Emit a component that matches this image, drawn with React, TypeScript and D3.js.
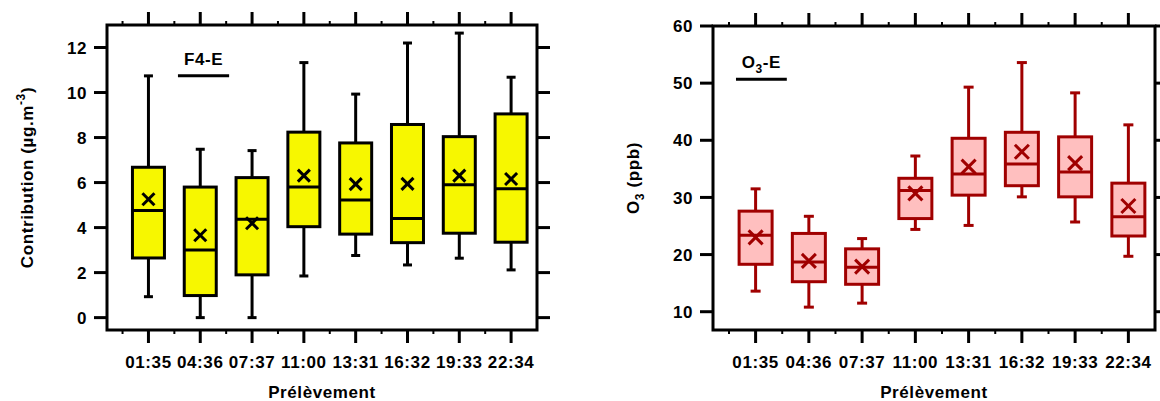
import React from "react";
import * as d3 from "d3";

const categories = ["01:35", "04:36", "07:37", "11:00", "13:31", "16:32", "19:33", "22:34"];

// F4-E contribution (µg.m-3)
const f4WhiskerLow = [0.93, 0, 0, 1.85, 2.76, 2.34, 2.64, 2.12];
const f4Q1 = [2.65, 0.98, 1.9, 4.04, 3.71, 3.33, 3.75, 3.35];
const f4Median = [4.76, 3.0, 4.37, 5.8, 5.23, 4.4, 5.9, 5.72];
const f4Q3 = [6.68, 5.8, 6.22, 8.24, 7.76, 8.58, 8.04, 9.05];
const f4WhiskerHigh = [10.74, 7.48, 7.42, 11.33, 9.93, 12.2, 12.64, 10.68];
const f4Mean = [5.26, 3.66, 4.19, 6.31, 5.93, 5.94, 6.31, 6.16];
const f4Ticks = [0, 2, 4, 6, 8, 10, 12];

// O3-E (ppb)
const o3WhiskerLow = [13.6, 10.8, 11.5, 24.4, 25.1, 30.1, 25.7, 19.7];
const o3Q1 = [18.3, 15.25, 14.8, 26.3, 30.4, 32.05, 30.1, 23.25];
const o3Median = [23.4, 18.7, 17.8, 31.2, 34.1, 35.85, 34.45, 26.6];
const o3Q3 = [27.6, 23.7, 21.0, 33.35, 40.35, 41.4, 40.6, 32.5];
const o3WhiskerHigh = [31.5, 26.7, 22.8, 37.25, 49.3, 53.6, 48.3, 42.7];
const o3Mean = [23.0, 18.9, 17.9, 30.7, 35.4, 38.0, 36.0, 28.5];
const o3Ticks = [10, 20, 30, 40, 50, 60];

const FONT = "'Liberation Sans', Arial, Helvetica, sans-serif";
const FS = 17;
const LS = 0.6;

type PanelProps = {
  x0: number; x1: number; y0: number; y1: number;
  yDomain: [number, number];
  yTicks: number[];
  lo: number[]; q1: number[]; med: number[]; q3: number[]; hi: number[]; mean: number[];
  stroke: string; fill: string;
  boxW: number; capW: number; markR: number;
  yTitle: React.ReactNode;
  label: React.ReactNode;
  labelFrac: [number, number];
  labelY: number;
};

function Panel(p: PanelProps) {
  const x = d3.scaleLinear().domain([-0.8, 7.5]).range([p.x0, p.x1]);
  const y = d3.scaleLinear().domain(p.yDomain).range([p.y1, p.y0]);
  const idx = d3.range(categories.length);
  const minor = d3.range(-0.5, 7.0, 1);
  const tickLen = 13;
  const cx = (p.x0 + p.x1) / 2;
  const cy = (p.y0 + p.y1) / 2;
  const lx0 = p.x0 + (p.x1 - p.x0) * p.labelFrac[0];
  const lx1 = p.x0 + (p.x1 - p.x0) * p.labelFrac[1];
  return (
    <g>
      {/* boxes */}
      {idx.map((i) => {
        const c = x(i);
        const r = p.markR;
        return (
          <g key={i} stroke={p.stroke} strokeWidth={3} fill="none">
            <line x1={c} x2={c} y1={y(p.q3[i])} y2={y(p.hi[i])} />
            <line x1={c} x2={c} y1={y(p.q1[i])} y2={y(p.lo[i])} />
            <line x1={c - p.capW / 2} x2={c + p.capW / 2} y1={y(p.hi[i])} y2={y(p.hi[i])} />
            <line x1={c - p.capW / 2} x2={c + p.capW / 2} y1={y(p.lo[i])} y2={y(p.lo[i])} />
            <rect x={c - p.boxW / 2} width={p.boxW} y={y(p.q3[i])} height={y(p.q1[i]) - y(p.q3[i])} fill={p.fill} />
            <line x1={c - p.boxW / 2} x2={c + p.boxW / 2} y1={y(p.med[i])} y2={y(p.med[i])} />
            <line x1={c - r} x2={c + r} y1={y(p.mean[i]) - r} y2={y(p.mean[i]) + r} />
            <line x1={c - r} x2={c + r} y1={y(p.mean[i]) + r} y2={y(p.mean[i]) - r} />
          </g>
        );
      })}
      {/* frame */}
      <rect x={p.x0} y={p.y0} width={p.x1 - p.x0} height={p.y1 - p.y0} fill="none" stroke="#000" strokeWidth={3} />
      {/* category ticks top and bottom */}
      {idx.map((i) => (
        <g key={"t" + i} stroke="#000" strokeWidth={3}>
          <line x1={x(i)} x2={x(i)} y1={p.y0} y2={p.y0 - tickLen} />
          <line x1={x(i)} x2={x(i)} y1={p.y1} y2={p.y1 + tickLen} />
        </g>
      ))}
      {minor.map((m) => (
        <g key={"m" + m} stroke="#000" strokeWidth={2}>
          <line x1={x(m)} x2={x(m)} y1={p.y0} y2={p.y0 - 4} />
          <line x1={x(m)} x2={x(m)} y1={p.y1} y2={p.y1 + 4} />
        </g>
      ))}
      {/* y ticks left and right */}
      {p.yTicks.map((t) => (
        <g key={"y" + t}>
          <line x1={p.x0} x2={p.x0 - tickLen} y1={y(t)} y2={y(t)} stroke="#000" strokeWidth={3} />
          <line x1={p.x1} x2={p.x1 + tickLen} y1={y(t)} y2={y(t)} stroke="#000" strokeWidth={3} />
          <text x={p.x0 - 20} y={y(t)} dy="0.36em" textAnchor="end" fontSize={FS} fontWeight="bold" fontFamily={FONT} letterSpacing={LS}>
            {t}
          </text>
        </g>
      ))}
      {/* category labels */}
      {idx.map((i) => (
        <text key={"l" + i} x={x(i)} y={368} textAnchor="middle" fontSize={FS} fontWeight="bold" fontFamily={FONT} letterSpacing={LS}>
          {categories[i]}
        </text>
      ))}
      <text x={cx} y={398} textAnchor="middle" fontSize={FS} fontWeight="bold" fontFamily={FONT} letterSpacing={LS}>
        Prélèvement
      </text>
      <g transform={`translate(${p.x0 - 74},${cy}) rotate(-90)`}>
        <text x={0} y={0} textAnchor="middle" fontSize={FS} fontWeight="bold" fontFamily={FONT} letterSpacing={LS}>
          {p.yTitle}
        </text>
      </g>
      {/* annotation */}
      <text x={(lx0 + lx1) / 2} y={y(p.labelY) - 11} textAnchor="middle" fontSize={FS} fontWeight="bold" fontFamily={FONT} letterSpacing={LS}>
        {p.label}
      </text>
      <line x1={lx0} x2={lx1} y1={y(p.labelY)} y2={y(p.labelY)} stroke="#000" strokeWidth={3} />
    </g>
  );
}

export default function App() {
  return (
    <svg width={1160} height={401} style={{ position: "absolute", left: 0, top: 0, background: "#fff" }}>
      <rect width={1160} height={401} fill="#fff" />
      <Panel
        x0={107} x1={537} y0={25} y1={330}
        yDomain={[-0.55, 13.0]}
        yTicks={f4Ticks}
        lo={f4WhiskerLow} q1={f4Q1} med={f4Median} q3={f4Q3} hi={f4WhiskerHigh} mean={f4Mean}
        stroke="#000" fill="#f7f700"
        boxW={32} capW={9} markR={6}
        yTitle={<>Contribution (µg.m<tspan fontSize={12} dy={-8}>-3</tspan><tspan dy={8}>)</tspan></>}
        label={<>F4-E</>}
        labelFrac={[0.165, 0.284]}
        labelY={10.74}
      />
      <Panel
        x0={713} x1={1155} y0={26} y1={330}
        yDomain={[6.8, 60]}
        yTicks={o3Ticks}
        lo={o3WhiskerLow} q1={o3Q1} med={o3Median} q3={o3Q3} hi={o3WhiskerHigh} mean={o3Mean}
        stroke="#a00000" fill="#ffbfbf"
        boxW={33} capW={10} markR={7}
        yTitle={<>O<tspan fontSize={12} dy={5}>3</tspan><tspan dy={-5}> (ppb)</tspan></>}
        label={<>O<tspan fontSize={12} dy={5}>3</tspan><tspan dy={-5}>-E</tspan></>}
        labelFrac={[0.052, 0.167]}
        labelY={50.7}
      />
    </svg>
  );
}
